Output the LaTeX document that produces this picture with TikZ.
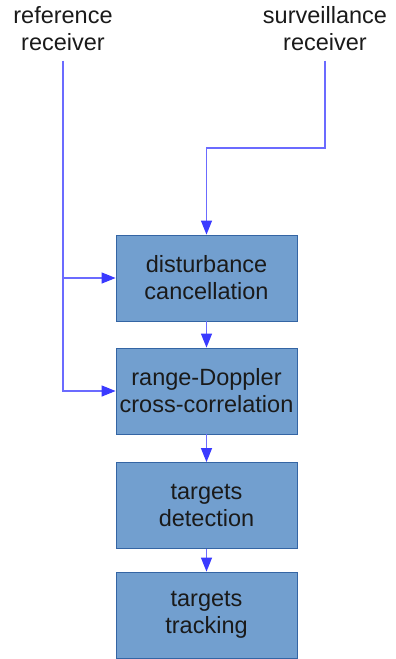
\documentclass[tikz,border=0pt]{standalone}
\usepackage{fontspec}
\setmainfont{Liberation Sans}
\usepackage{tikz}
\usetikzlibrary{arrows.meta}
\definecolor{boxfill}{HTML}{729FCF}
\definecolor{boxline}{HTML}{3465A4}
\definecolor{wire}{HTML}{3A3AFF}
\definecolor{ink}{HTML}{1A1A1A}
\tikzstyle{block}=[rectangle,draw=boxline,fill=boxfill,line width=0.8pt,minimum width=181pt,minimum height=86pt,inner sep=0pt,align=center,text=ink]
\tikzstyle{source}=[align=center,text=ink,inner sep=0pt,outer ysep=10pt]
\tikzstyle{flow}=[draw=wire!75,line width=1.2pt,-{Triangle[length=14pt,width=11pt,color=wire]}]
\tikzset{every picture/.style={
    x=1pt,y=-1pt,font=\fontsize{23.5}{27}\selectfont
  }
}
\begin{document}
\begin{tikzpicture}
          \useasboundingbox (0,0) rectangle (396,659);
          \node[source] at (63,28.5) (ref) {reference\\receiver};
          \node[source] at (325,28.5) (sur) {surveillance\\receiver};
          \node[block] at (206.5,278) (dc) {disturbance\\cancellation};
          \node[block] at (206.5,391) (rd) {range-Doppler\\cross-correlation};
          \node[block] at (206.5,505.5) (td) {targets\\detection};
          \node[block] at (206.5,615) (tt) {targets\\tracking};
          \coordinate (jog) at (325,148);
          \draw[flow] (sur.south) -- (jog) -| (dc.north);
          \draw[flow] (ref.south) |- (rd.west);
          \draw[flow] (ref.south |- dc.west) -- (dc.west);
          \draw[flow] (dc)--(rd);
          \draw[flow] (rd)--(td);
          \draw[flow] (td)--(tt);
        \end{tikzpicture}
\end{document}
